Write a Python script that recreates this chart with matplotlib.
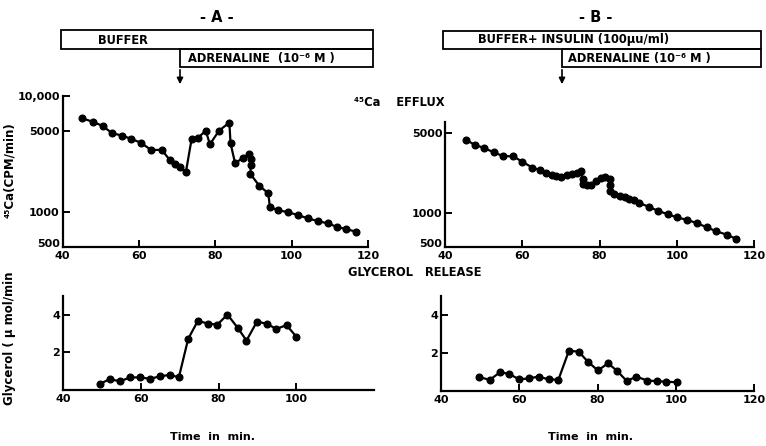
import numpy as np
import matplotlib as mpl
mpl.use('Agg')
import matplotlib.pyplot as plt
from matplotlib.patches import Rectangle
from matplotlib.ticker import FixedLocator, FixedFormatter, NullLocator
from matplotlib.transforms import ScaledTranslation

# --- 45Ca efflux, panel A (buffer, then adrenaline) ---
ca_a_t = [45.0, 47.9, 50.5, 53.0, 55.6, 58.0, 60.5, 63.2, 66.0, 68.1, 69.4, 70.8, 72.3,
          73.8, 75.4, 77.5, 78.6, 81.0, 83.7, 84.0, 85.2, 87.3, 88.9, 89.3, 89.3, 89.2,
          91.5, 93.9, 94.3, 96.5, 99.1, 101.6, 104.2, 106.8, 109.4, 112.0, 114.2, 116.8]
ca_a_cpm = [6430, 6010, 5520, 4780, 4560, 4270, 3960, 3430, 3430, 2810, 2600, 2430, 2200,
            4240, 4330, 5030, 3840, 5030, 5900, 3920, 2630, 2940, 3170, 2850, 2530, 2130,
            1690, 1450, 1100, 1040, 995, 944, 883, 837, 800, 743, 715, 678]

# --- 45Ca efflux, panel B (buffer + insulin, then adrenaline) ---
ca_b_t = [45.4, 47.7, 50.1, 52.6, 55.1, 57.6, 60.0, 62.6, 64.7, 66.2, 67.7, 68.7, 70.1,
          71.5, 72.8, 74.1, 75.2, 75.6, 75.6, 76.7, 77.9, 79.0, 80.3, 81.5, 82.6, 82.6,
          82.6, 83.7, 85.2, 86.6, 87.7, 89.0, 90.3, 92.7, 95.2, 97.7, 100.1, 102.7, 105.2,
          107.8, 110.2, 112.9, 115.4]
ca_b_cpm = [4390, 3970, 3720, 3410, 3150, 3150, 2820, 2500, 2370, 2230, 2150, 2090, 2050,
            2150, 2190, 2220, 2310, 1990, 1800, 1760, 1760, 1920, 2020, 2050, 1990, 1770,
            1550, 1470, 1400, 1380, 1330, 1290, 1225, 1130, 1040, 970, 910, 867, 811,
            745, 688, 643, 590]

# --- glycerol release ---
gly_a_t = [49.5, 52.0, 54.7, 57.2, 59.8, 62.3, 64.9, 67.5, 69.8, 72.2, 74.7, 77.3, 79.7,
           82.3, 84.9, 87.2, 89.9, 92.4, 94.9, 97.5, 100.0]
gly_a = [0.32, 0.58, 0.46, 0.67, 0.67, 0.60, 0.72, 0.81, 0.67, 2.72, 3.68, 3.53, 3.48,
         4.01, 3.32, 2.63, 3.64, 3.52, 3.25, 3.45, 2.84]

gly_b_t = [49.7, 52.5, 55.1, 57.4, 60.0, 62.6, 65.0, 67.5, 70.0, 72.7, 75.2, 77.5, 80.1,
           82.7, 85.1, 87.5, 89.9, 92.7, 95.1, 97.6, 100.2]
gly_b = [0.73, 0.59, 0.99, 0.90, 0.61, 0.67, 0.76, 0.61, 0.59, 2.12, 2.07, 1.55, 1.08,
         1.46, 1.04, 0.52, 0.76, 0.55, 0.52, 0.49, 0.46]

W, H = 766, 446
plt.rcParams['font.family'] = ['DejaVu Sans']
plt.rcParams['font.weight'] = 'bold'
fig = plt.figure(figsize=(W / 100, H / 100), dpi=100)


def px_axes(x0, x1, y_top, y_bot):
    # axes placed in pixel coordinates (top-left origin)
    return fig.add_axes([x0 / W, 1 - y_bot / H, (x1 - x0) / W, (y_bot - y_top) / H])


def style(ax, xticks, xlabels, yticks, ylabels):
    for s in ('top', 'right'):
        ax.spines[s].set_visible(False)
    for s in ('left', 'bottom'):
        ax.spines[s].set_linewidth(1.6)
    ax.xaxis.set_major_locator(FixedLocator(xticks))
    ax.xaxis.set_major_formatter(FixedFormatter(xlabels))
    ax.yaxis.set_major_locator(FixedLocator(yticks))
    ax.yaxis.set_major_formatter(FixedFormatter(ylabels))
    ax.xaxis.set_minor_locator(NullLocator())
    ax.yaxis.set_minor_locator(NullLocator())
    ax.tick_params(direction='in', length=5, width=1.4, labelsize=8, pad=2)
    ax.tick_params(axis='x', pad=3)
    ax.patch.set_alpha(0)


def lift_first_ylabel(ax, pts=3):
    # the lowest y label sits just above the x labels at the corner
    lab = ax.get_yticklabels()[0]
    lab.set_transform(lab.get_transform() + ScaledTranslation(0, pts / 72, fig.dpi_scale_trans))


def series(ax, x, y):
    ax.plot(x, y, '-o', color='black', lw=1.6, ms=4.8, clip_on=False)


# top panels
ax1 = px_axes(62.5, 368, 96, 247)
ax1.set_yscale('log')
series(ax1, ca_a_t, ca_a_cpm)
ax1.set_xlim(40, 120)
ax1.set_ylim(500, 10000)
style(ax1, [40, 60, 80, 100, 120], ['40', '60', '80', '100', '120'],
      [500, 1000, 5000, 10000], ['500', '1000', '5000', '10,000'])
lift_first_ylabel(ax1)

ax2 = px_axes(445, 754, 122, 247)
ax2.set_yscale('log')
series(ax2, ca_b_t, ca_b_cpm)
ax2.set_xlim(40, 120)
ax2.set_ylim(500, 6300)
style(ax2, [40, 60, 80, 100, 120], ['40', '60', '80', '100', '120'],
      [500, 1000, 5000], ['500', '1000', '5000'])
lift_first_ylabel(ax2)

# bottom panels
ax3 = px_axes(63, 374, 296, 390)
series(ax3, gly_a_t, gly_a)
ax3.set_xlim(40, 120)
ax3.set_ylim(0, 5)
style(ax3, [40, 60, 80, 100], ['40', '60', '80', '100'], [2, 4], ['2', '4'])

ax4 = px_axes(441, 754, 296, 391)
series(ax4, gly_b_t, gly_b)
ax4.set_xlim(40, 120)
ax4.set_ylim(0, 5)
style(ax4, [40, 60, 80, 100, 120], ['40', '60', '80', '100', '120'], [2, 4], ['2', '4'])

# overlay for the treatment bars, arrows and headings (pixel coordinates)
ov = fig.add_axes([0, 0, 1, 1])
ov.set_xlim(0, W)
ov.set_ylim(H, 0)
ov.axis('off')
ov.patch.set_alpha(0)


def bar_box(x0, x1, y0, y1):
    ov.add_patch(Rectangle((x0, y0), x1 - x0, y1 - y0, fill=False, lw=1.3, ec='black'))


txt = dict(fontsize=8.3, fontweight='bold', va='center')

ov.text(217, 17, '- A -', ha='center', va='center', fontsize=10.5, fontweight='bold')
bar_box(61, 373, 30, 49)
ov.text(98, 40, 'BUFFER', ha='left', **txt)
bar_box(180, 373, 49, 67)
ov.text(188, 58.5, 'ADRENALINE  (10⁻⁶ M )', ha='left', **txt)
ov.annotate('', xy=(180, 87), xytext=(180, 67),
            arrowprops=dict(arrowstyle='-|>', color='black', lw=1.2, mutation_scale=9))

ov.text(596, 17, '- B -', ha='center', va='center', fontsize=10.5, fontweight='bold')
bar_box(443, 761, 31, 49)
ov.text(478, 40, 'BUFFER+ INSULIN (100µu/ml)', ha='left', **txt)
bar_box(562, 761, 49, 67)
ov.text(568, 58.5, 'ADRENALINE (10⁻⁶ M )', ha='left', **txt)
ov.annotate('', xy=(562, 87), xytext=(562, 67),
            arrowprops=dict(arrowstyle='-|>', color='black', lw=1.2, mutation_scale=9))

ov.text(354, 102, '⁴⁵Ca    EFFLUX', ha='left', **txt)
ov.text(348, 272, 'GLYCEROL   RELEASE', ha='left', **txt)

ov.text(10, 170, '⁴⁵Ca(CPM/min)', rotation=90, ha='center', va='center',
        fontsize=8.5, fontweight='bold')
ov.text(10, 338, 'Glycerol ( µ mol/min', rotation=90, ha='center', va='center',
        fontsize=8.5, fontweight='bold')

ov.text(213, 437, 'Time  in  min.', ha='center', va='center', fontsize=8, fontweight='bold')
ov.text(590, 437, 'Time  in  min.', ha='center', va='center', fontsize=8, fontweight='bold')

fig.savefig('out.png', dpi=100)
